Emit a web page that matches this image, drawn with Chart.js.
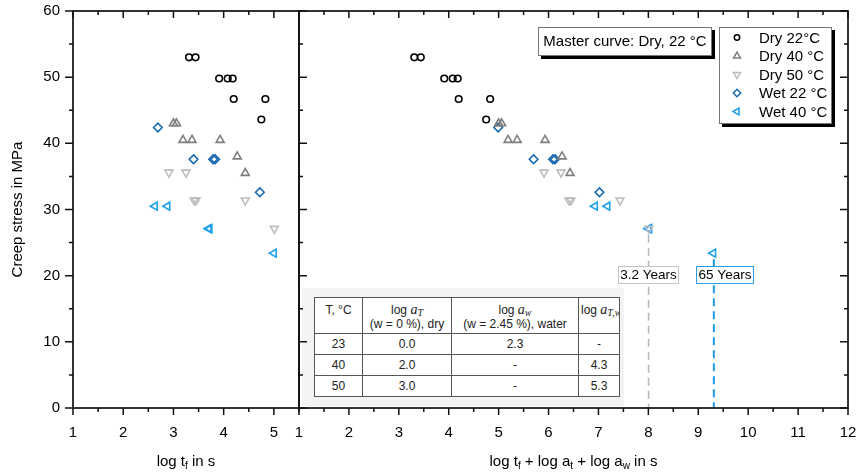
<!DOCTYPE html>
<html>
<head>
<meta charset="utf-8">
<script src="https://cdn.jsdelivr.net/npm/chart.js@4.4.0/dist/chart.umd.min.js"></script>
<style>
  body { margin: 0; background: #fff; }
  #wrap { position: relative; width: 865px; height: 472px; overflow: hidden; font-family: 'Liberation Sans', Arial, sans-serif; }
  #wrap canvas { position: absolute; top: 0; }
  #cLeft { left: 0; }
  #cRight { left: 279px; }
  .xtitle { position: absolute; top: 452px; height: 18px; line-height: 18px; font-size: 15px; text-align: center; color: #000; white-space: nowrap; }
  .xtitle sub { font-size: 10px; vertical-align: -3px; line-height: 0; }
  #shiftBg { position: absolute; left: 302px; top: 288px; width: 322px; height: 118px; background: #f3f3f3; }
  #shiftTable { position: absolute; left: 314px; top: 297px; width: 305px; border-collapse: collapse; table-layout: fixed; background: #fff; font-size: 12px; color: #222; }
  #shiftTable td { border: 1px solid #555; padding: 0; text-align: center; vertical-align: middle; overflow: hidden; white-space: nowrap; line-height: 14px; }
  #shiftTable tr.head td { vertical-align: top; padding-top: 5px; height: 30px; }
  #shiftTable tr.row td { height: 20px; }
  #shiftTable td.cut { text-align: left; padding-left: 2px; }
  .m { font-family: 'Liberation Serif', 'DejaVu Serif', serif; font-style: italic; font-size: 14px; }
  .m sub { font-size: 10px; vertical-align: -2px; line-height: 0; }
</style>
</head>
<body>
<div id="wrap">
  <div id="shiftBg"></div>
  <canvas id="cLeft" width="300" height="472"></canvas>
  <canvas id="cRight" width="586" height="472"></canvas>
  <table id="shiftTable">
    <colgroup><col style="width:48px"><col style="width:89px"><col style="width:127px"><col style="width:41px"></colgroup>
    <tbody id="shiftBody"></tbody>
  </table>
  <div class="xtitle" style="left:73px; width:226px;">log t<sub>f</sub> in s</div>
  <div class="xtitle" style="left:299px; width:549px;">log t<sub>f</sub> + log a<sub>t</sub> + log a<sub>w</sub> in s</div>
</div>
<script>
// creep rupture: log of time to failure (s) and applied stress (MPa)
const dry22Logt = [3.31, 3.44, 3.91, 4.08, 4.18, 4.20, 4.83, 4.75];
const dry22Stress = [53.0, 53.0, 49.8, 49.8, 49.8, 46.7, 46.7, 43.6];
const dry40Logt = [3.00, 3.06, 3.19, 3.37, 3.93, 4.27, 4.43];
const dry40Stress = [43.0, 43.0, 40.5, 40.5, 40.5, 38.0, 35.5];
const dry50Logt = [2.91, 3.25, 3.41, 3.45, 4.43, 5.01];
const dry50Stress = [35.6, 35.6, 31.4, 31.4, 31.4, 27.1];
const wet22Logt = [2.69, 3.40, 3.79, 3.83, 4.72];
const wet22Stress = [42.4, 37.6, 37.6, 37.6, 32.6];
const wet40Logt = [2.63, 2.88, 3.70, 3.72, 5.00];
const wet40Stress = [30.5, 30.5, 27.1, 27.1, 23.4];

const seriesNames = ['Dry 22°C', 'Dry 40 °C', 'Dry 50 °C', 'Wet 22 °C', 'Wet 40 °C'];
// horizontal shift of each series onto the dry 22 °C master curve
const seriesShift = [0.0, 2.0, 3.0, 2.3, 4.3];

// shift factor table
const tableTemp = ['23', '40', '50'];
const tableLogAT = ['0.0', '2.0', '3.0'];
const tableLogAw = ['2.3', '-', '-'];
const tableLogATw = ['-', '4.3', '5.3'];

// extrapolated lifetimes
const lifetimeYears = [3.2, 65];
const lifetimeLabels = ['3.2 Years', '65 Years'];
const lifetimeStress = [27.1, 23.4];

const secondsPerYear = 365.25 * 24 * 3600;
const fontFamily = "'Liberation Sans', Arial, sans-serif";
Chart.defaults.font.family = fontFamily;
Chart.defaults.color = '#000';

const seriesStyle = [
  { color: '#000000', pointStyle: 'circle', rotation: 0, radius: 3.3 },
  { color: '#7f7f7f', pointStyle: 'triangle', rotation: 0, radius: 4.6 },
  { color: '#bdbdbd', pointStyle: 'triangle', rotation: 180, radius: 4.6 },
  { color: '#1769b0', pointStyle: 'rectRot', rotation: 0, radius: 4.3 },
  { color: '#1ea0ee', pointStyle: 'triangle', rotation: -90, radius: 4.6 }
];
const seriesX = [dry22Logt, dry40Logt, dry50Logt, wet22Logt, wet40Logt];
const seriesY = [dry22Stress, dry40Stress, dry50Stress, wet22Stress, wet40Stress];

function makeDatasets(shifted) {
  return seriesNames.map((name, i) => {
    const st = seriesStyle[i];
    return {
      label: name,
      data: seriesX[i].map((x, k) => ({ x: shifted ? x + seriesShift[i] : x, y: seriesY[i][k] })),
      pointStyle: st.pointStyle,
      pointRotation: st.rotation,
      pointRadius: st.radius,
      pointHoverRadius: st.radius,
      pointBorderColor: st.color,
      pointBackgroundColor: 'rgba(0,0,0,0)',
      pointBorderWidth: 1.6,
      showLine: false
    };
  });
}

// axis frame with major/minor tick marks
const framePlugin = {
  id: 'frame',
  afterDraw(chart, args, opts) {
    const { ctx, chartArea: a, scales: { x, y } } = chart;
    ctx.save();
    ctx.strokeStyle = '#111';
    ctx.lineWidth = 1.7;
    ctx.strokeRect(a.left, a.top, a.right - a.left, a.bottom - a.top);
    ctx.lineWidth = 1.5;
    ctx.beginPath();
    for (let v = x.min; v <= x.max + 1e-6; v += 0.5) {
      const px = x.getPixelForValue(v);
      const len = Number.isInteger(v) ? 7 : 4;
      ctx.moveTo(px, a.bottom); ctx.lineTo(px, a.bottom + len);
      ctx.moveTo(px, a.top); ctx.lineTo(px, a.top + len);
    }
    for (let v = y.min; v <= y.max; v += 5) {
      const py = y.getPixelForValue(v);
      const len = v % 10 === 0 ? 8 : 4;
      if (opts.leftOut) { ctx.moveTo(a.left - len, py); ctx.lineTo(a.left, py); }
      else { ctx.moveTo(a.left, py); ctx.lineTo(a.left + len, py); }
      if (opts.rightIn) { ctx.moveTo(a.right - len, py); ctx.lineTo(a.right, py); }
    }
    ctx.stroke();
    ctx.restore();
  }
};

function shadowBox(ctx, x, y, w, h, border) {
  ctx.fillStyle = '#000';
  ctx.fillRect(x + 3, y + 3, w, h);
  ctx.fillStyle = '#fff';
  ctx.fillRect(x, y, w, h);
  ctx.strokeStyle = border;
  ctx.lineWidth = 1;
  ctx.strokeRect(x + 0.5, y + 0.5, w - 1, h - 1);
}

// lifetime markers, master curve note and legend on the shifted panel
const notesPlugin = {
  id: 'notes',
  beforeDatasetsDraw(chart) {
    const { ctx, chartArea: a, scales: { x, y } } = chart;
    const colors = ['#b9b9b9', '#1e9be8'];
    lifetimeYears.forEach((yrs, i) => {
      const px = x.getPixelForValue(Math.log10(yrs * secondsPerYear));
      const top = y.getPixelForValue(lifetimeStress[i]) + 6;
      ctx.save();
      ctx.setLineDash([8, 5]);
      ctx.strokeStyle = colors[i];
      ctx.lineWidth = i === 0 ? 1.6 : 2;
      ctx.beginPath();
      ctx.moveTo(px, top);
      ctx.lineTo(px, a.bottom);
      ctx.stroke();
      ctx.restore();
    });
  },
  afterDatasetsDraw(chart) {
    const { ctx, chartArea: a, scales: { x } } = chart;
    const boxColors = ['#c4c4c4', '#2a9fe8'];
    const boxW = [61, 58];
    const boxDx = [-30.5, -18];
    ctx.save();
    ctx.font = '13.5px ' + fontFamily;
    ctx.textAlign = 'center';
    ctx.textBaseline = 'middle';
    lifetimeYears.forEach((yrs, i) => {
      const px = x.getPixelForValue(Math.log10(yrs * secondsPerYear));
      const bx = Math.round(px + boxDx[i]);
      const by = a.top + 255;
      ctx.fillStyle = '#fff';
      ctx.fillRect(bx, by, boxW[i], 18);
      ctx.strokeStyle = boxColors[i];
      ctx.lineWidth = 1;
      ctx.strokeRect(bx + 0.5, by + 0.5, boxW[i] - 1, 17);
      ctx.fillStyle = '#000';
      ctx.fillText(lifetimeLabels[i], bx + boxW[i] / 2, by + 9.5);
    });

    // master curve note
    const mx = a.left + 239, my = a.top + 16;
    shadowBox(ctx, mx, my, 174, 29, '#777');
    ctx.font = '15px ' + fontFamily;
    ctx.fillStyle = '#000';
    ctx.fillText('Master curve: Dry, 22 °C', mx + 87, my + 15);

    // legend
    const lx = a.left + 420, ly = a.top + 16;
    shadowBox(ctx, lx, ly, 113, 97, '#777');
    ctx.textAlign = 'left';
    chart.data.datasets.forEach((ds, i) => {
      const st = seriesStyle[i];
      const ry = ly + 10.5 + i * 18.5;
      ctx.strokeStyle = st.color;
      ctx.fillStyle = 'rgba(0,0,0,0)';
      ctx.lineWidth = 1.5;
      Chart.helpers.drawPoint(ctx, { pointStyle: st.pointStyle, rotation: st.rotation, radius: st.radius - 0.6, borderWidth: 1.5 }, lx + 18, ry);
      ctx.fillStyle = '#000';
      ctx.fillText(ds.label, lx + 40, ry + 1);
    });
    ctx.restore();
  }
};

// invisible tick marks only reserve the gap between axis and labels
const hiddenGrid = len => ({ display: true, drawOnChartArea: false, drawTicks: true, tickLength: len, color: 'rgba(0,0,0,0)' });
// keep label overhang from shrinking the plot area
const fixX = s => { s.height = 64; s.paddingLeft = 0; s.paddingRight = 0; };

new Chart(document.getElementById('cLeft'), {
  type: 'scatter',
  data: { datasets: makeDatasets(false) },
  options: {
    responsive: false,
    animation: false,
    devicePixelRatio: 1,
    layout: { autoPadding: false, padding: { left: 0, right: 1, top: 11, bottom: 0 } },
    plugins: { legend: { display: false }, tooltip: { enabled: false }, frame: { leftOut: true, rightIn: false } },
    scales: {
      x: {
        type: 'linear', min: 1, max: 5.5,
        grid: hiddenGrid(16),
        border: { display: false },
        ticks: { stepSize: 0.5, autoSkip: false, maxRotation: 0, padding: 0, font: { size: 15 },
          callback: v => Number.isInteger(v) ? String(v) : '' },
        afterFit: fixX
      },
      y: {
        min: 0, max: 60,
        grid: hiddenGrid(13),
        border: { display: false },
        ticks: { stepSize: 10, padding: 0, font: { size: 15 } },
        title: { display: true, text: 'Creep stress in MPa', font: { size: 15 }, padding: { top: 9, bottom: 0 } },
        afterFit: s => { s.width = 73; s.paddingTop = 0; s.paddingBottom = 0; }
      }
    }
  },
  plugins: [framePlugin]
});

new Chart(document.getElementById('cRight'), {
  type: 'scatter',
  data: { datasets: makeDatasets(true) },
  options: {
    responsive: false,
    animation: false,
    devicePixelRatio: 1,
    layout: { autoPadding: false, padding: { left: 20, right: 17, top: 11, bottom: 0 } },
    plugins: { legend: { display: false }, tooltip: { enabled: false }, frame: { leftOut: false, rightIn: true } },
    scales: {
      x: {
        type: 'linear', min: 1, max: 12,
        grid: hiddenGrid(16),
        border: { display: false },
        ticks: { stepSize: 1, autoSkip: false, maxRotation: 0, padding: 0, font: { size: 15 } },
        afterFit: fixX
      },
      y: { display: false, min: 0, max: 60 }
    }
  },
  plugins: [framePlugin, notesPlugin]
});

// shift factor table
const body = document.getElementById('shiftBody');
body.innerHTML =
  '<tr class="head"><td>T, °C</td>' +
  '<td>log <span class="m">a<sub>T</sub></span><br>(w = 0 %), dry</td>' +
  '<td>log <span class="m">a<sub>w</sub></span><br>(w = 2.45 %), water</td>' +
  '<td class="cut">log <span class="m">a<sub>T,w</sub></span></td></tr>' +
  tableTemp.map((t, i) =>
    '<tr class="row"><td>' + t + '</td><td>' + tableLogAT[i] + '</td><td>' + tableLogAw[i] + '</td><td>' + tableLogATw[i] + '</td></tr>'
  ).join('');
</script>
</body>
</html>
